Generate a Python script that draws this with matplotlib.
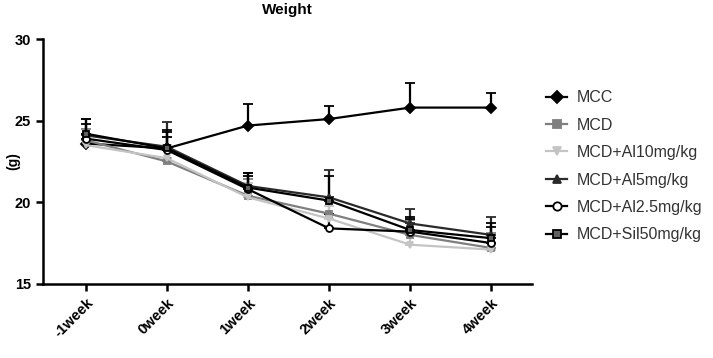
import numpy as np
import matplotlib.pyplot as plt
from matplotlib.lines import Line2D

plt.rcParams['font.family'] = ['Liberation Sans', 'DejaVu Sans']

weeks = ['-1week', '0week', '1week', '2week', '3week', '4week']

mcc = [23.6, 23.3, 24.7, 25.1, 25.8, 25.8]
mcc_err = [0.6, 0.7, 1.3, 0.8, 1.5, 0.9]
mcd = [23.8, 22.5, 20.4, 19.3, 18.0, 17.2]
mcd_err = [0.7, 0.9, 1.0, 1.0, 0.9, 0.9]
al10 = [23.5, 22.7, 20.3, 19.0, 17.4, 17.1]
al10_err = [0.7, 0.8, 0.9, 0.8, 0.7, 0.8]
al5 = [24.1, 23.4, 21.0, 20.3, 18.7, 18.0]
al5_err = [1.0, 1.5, 0.8, 1.7, 0.9, 1.1]
al25 = [23.9, 23.2, 20.8, 18.4, 18.2, 17.5]
al25_err = [0.9, 1.2, 0.8, 0.9, 0.8, 1.0]
sil50 = [24.2, 23.3, 20.9, 20.1, 18.3, 17.8]
sil50_err = [0.9, 1.0, 0.9, 1.5, 0.8, 0.9]

series = [
    ('MCC', mcc, mcc_err, 'D', 'black', 'black'),
    ('MCD', mcd, mcd_err, 's', '#7f7f7f', '#7f7f7f'),
    ('MCD+Al10mg/kg', al10, al10_err, 'v', '#c4c4c4', '#c4c4c4'),
    ('MCD+Al5mg/kg', al5, al5_err, '^', '#2a2a2a', '#2a2a2a'),
    ('MCD+Al2.5mg/kg', al25, al25_err, 'o', 'black', 'white'),
    ('MCD+Sil50mg/kg', sil50, sil50_err, 's', 'black', '#606060'),
]

fig = plt.figure(figsize=(7.13, 3.58), dpi=100)
ax = fig.add_axes([0.060, 0.207, 0.686, 0.684])

x = np.arange(len(weeks))
handles = []
for name, vals, err, mk, col, fill in series:
    vals = np.array(vals)
    ax.errorbar(x, vals, yerr=[np.zeros(len(err)), err], color=col, lw=1.6,
                marker=mk, ms=5, mfc=fill, mec=col, mew=1.3,
                capsize=3.5, capthick=1.6, elinewidth=1.6)
    handles.append(Line2D([], [], color=col, lw=1.6, marker=mk, ms=6,
                          mfc=fill, mec=col, mew=1.3, label=name))

ax.set_xlim(-0.53, 5.5)
ax.set_ylim(15, 30)
ax.set_yticks([15, 20, 25, 30])
ax.set_xticks(x)
ax.set_xticklabels(weeks, rotation=45, ha='right', rotation_mode='anchor')
ax.tick_params(labelsize=10.5, width=1.8, length=5)
for lab in ax.get_xticklabels() + ax.get_yticklabels():
    lab.set_fontweight('bold')
for s in ['top', 'right']:
    ax.spines[s].set_visible(False)
for s in ['left', 'bottom']:
    ax.spines[s].set_linewidth(1.8)

fig.text(0.018, 0.55, '(g)', rotation=90, ha='center', va='center',
         fontsize=10, fontweight='bold')
fig.text(0.403, 0.972, 'Weight', ha='center', va='center', fontsize=11, fontweight='bold')

ax.legend(handles=handles, loc='upper left', bbox_to_anchor=(1.0, 0.85), frameon=False,
          fontsize=11.5, handlelength=1.3, labelspacing=0.78, handletextpad=0.6,
          labelcolor='#333333')

fig.savefig('out.png', dpi=100)
